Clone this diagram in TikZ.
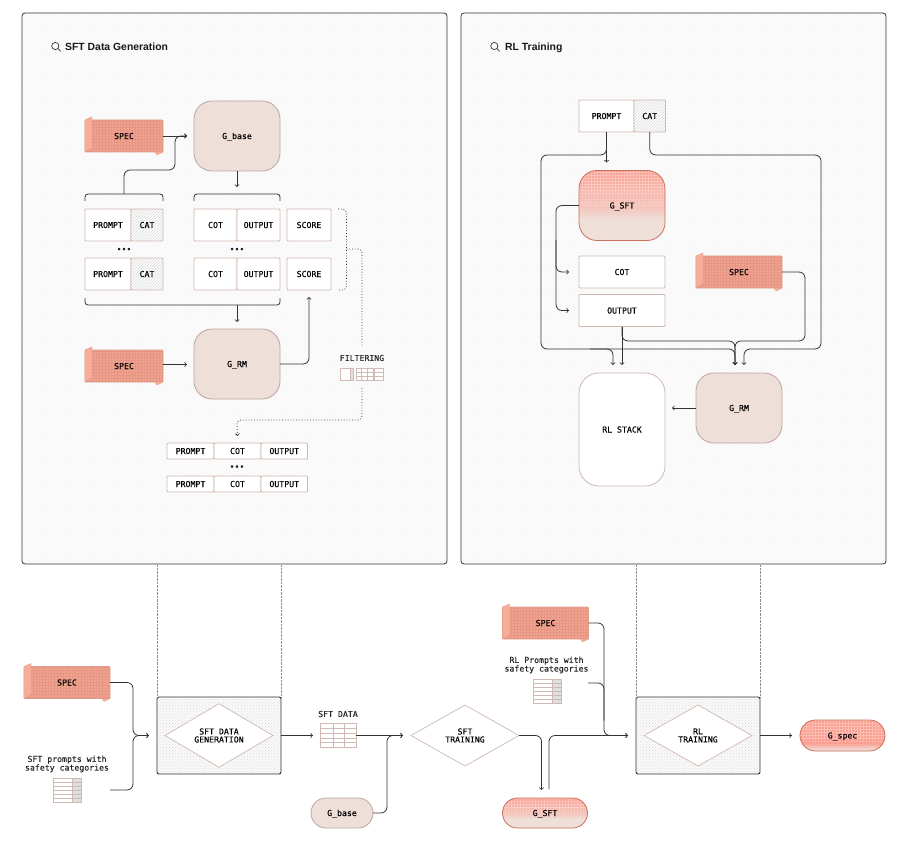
\documentclass[tikz,border=0pt]{standalone}
\usepackage{fontspec}
\setmainfont{Liberation Sans}
\newfontfamily\labelfont[FakeBold=0.15]{DejaVu Sans Mono}
\usepackage{tikz}
\usetikzlibrary{shapes.geometric,positioning,calc,patterns}

\definecolor{linedark}{HTML}{333333}
\definecolor{tanline}{HTML}{CFB9B1}
\definecolor{modelfill}{HTML}{EFDFD9}
\definecolor{specfill}{HTML}{EFA28F}
\definecolor{specgrid}{HTML}{E79684}
\definecolor{specflap}{HTML}{F8AD99}
\definecolor{specline}{HTML}{E09C8A}
\definecolor{fadefill}{HTML}{FB9E90}
\definecolor{fadeline}{HTML}{C8705C}
\pgfdeclareverticalshading{fadeSFT}{100bp}{color(0bp)=(modelfill); color(40bp)=(modelfill); color(49bp)=(fadefill!40!modelfill); color(75bp)=(fadefill); color(100bp)=(fadefill)}
\pgfdeclareverticalshading{fadeSpec}{100bp}{color(0bp)=(modelfill); color(27bp)=(modelfill); color(38bp)=(fadefill); color(100bp)=(fadefill)}

\tikzset{
	cell node/.style={draw=tanline, fill=white, line width=.8pt, rounded corners=1pt, minimum height=32pt, inner sep=0pt, outer sep=0pt, text height=6pt, text depth=0pt, font=\fontsize{8.2}{8}\labelfont},
	hatch node/.style={cell node, preaction={fill=white}, pattern=north east lines, pattern color=gray!30},
	model node/.style={cell node, fill=modelfill, draw=tanline!90!black, minimum width=86pt, minimum height=70pt, rounded corners=18pt},
	fade node/.style={model node, draw=fadeline, shade, shading=#1},
	pill node/.style={model node, minimum height=30pt, rounded corners=15pt},
	spec node/.style={cell node, draw=specline, fill=specfill, minimum width=86pt, path picture={\draw[step=3pt, specgrid, line width=.3pt] (path picture bounding box.south west) grid (path picture bounding box.north east);}},
	fade grid/.style={path picture={
		\draw[step=3pt, white, opacity=.18, line width=.4pt] ($(path picture bounding box.south east)!#1!(path picture bounding box.north east)$) grid (path picture bounding box.north west);
		\draw[step=3pt, white, opacity=.18, line width=.4pt] ($(path picture bounding box.south east)!{#1+.15}!(path picture bounding box.north east)$) grid (path picture bounding box.north west);
	}},
	panel node/.style={draw=linedark, line width=.8pt, rounded corners=3pt, minimum width=425pt, minimum height=551pt, outer sep=0pt, preaction={fill=black!1.5}, pattern=crosshatch dots, pattern color=black!4},
	box node/.style={draw=linedark, line width=.9pt, rounded corners=2pt, minimum width=124pt, minimum height=77pt, outer sep=0pt, preaction={fill=black!2}, pattern=crosshatch dots, pattern color=black!14},
	step node/.style={diamond, draw=tanline, fill=white, line width=.7pt, minimum width=108pt, minimum height=61pt, inner sep=0pt, outer sep=0pt, align=center, font=\fontsize{8.2}{8}\labelfont},
	text node/.style={inner sep=0pt, outer sep=0pt, align=center, text=black!85, font=\fontsize{8.2}{8.6}\labelfont},
	title node/.style={inner sep=0pt, anchor=west, text height=8pt, text depth=2pt, text=black!90, font=\fontsize{10.4}{12}\bfseries},
	table icon/.style n args={3}{draw=tanline, fill=white, line width=.6pt, inner sep=0pt, outer sep=0pt, path picture={
		\fill[black!12] ($(path picture bounding box.north west)!#3!(path picture bounding box.north east)$) rectangle (path picture bounding box.south east);
		\foreach \k in {#1} {\draw[tanline, line width=.6pt] ($(path picture bounding box.north west)!\k!(path picture bounding box.north east)$) -- ($(path picture bounding box.south west)!\k!(path picture bounding box.south east)$);}
		\foreach \k in {1,...,#2} {\draw[tanline, line width=.6pt] ($(path picture bounding box.north west)!\k/#2!(path picture bounding box.south west)$) -- ($(path picture bounding box.north east)!\k/#2!(path picture bounding box.south east)$);}
	}},
	link/.style={->, >=to, draw=linedark, line width=.8pt, rounded corners=6pt, shorten >=7pt},
	plain link/.style={link, -, shorten >=0pt},
	bracket link/.style={plain link, rounded corners=3pt},
	filter link/.style={plain link, dotted, rounded corners=4pt},
	guide link/.style={draw=black!45, line width=.4pt, densely dotted}
}

\begin{document}
\begin{tikzpicture}[x=1pt,y=-1pt,node distance=0pt]
			\useasboundingbox (0,0) rectangle (905,845);
			
			\node[panel node] (panelA) at (234.5,288.5) {};
			\node[panel node] (panelB) at (673.5,288.5) {};
			\node[title node] (titleA) at (65,48) {SFT Data Generation};
			\node[title node] (titleB) at (505,48) {RL Training};
			\draw[linedark, line width=.7pt] (55.3,46) circle (3.6pt) (58,48.7) -- (60.6,51.3);
			\draw[linedark, line width=.7pt] (494.3,46) circle (3.6pt) (497,48.7) -- (499.6,51.3);
			
			\node[spec node, minimum width=78pt] (specA) at (124,136) {SPEC};
			\node[model node] (gbaseA) at (237,136) {G\_base};
			
			\node[cell node, minimum width=46pt] (promptA) at (108,225) {PROMPT};
			\node[hatch node, minimum width=32pt] (catA) [right=of promptA] {CAT};
			\node[cell node, minimum width=43pt] (cotA) at (215.5,225) {COT};
			\node[cell node, minimum width=43pt] (outA) [right=of cotA] {OUTPUT};
			\node[cell node, minimum width=44pt] (scoreA) at (309,225) {SCORE};
			\node[text node] (dotsA) at (124,250) {•••};
			\node[text node] (dotsB) at (237,250) {•••};
			\node[cell node, minimum width=46pt] (promptB) [below=17pt of promptA] {PROMPT};
			\node[hatch node, minimum width=32pt] (catB) [right=of promptB] {CAT};
			\node[cell node, minimum width=43pt] (cotB) [below=17pt of cotA] {COT};
			\node[cell node, minimum width=43pt] (outB) [right=of cotB] {OUTPUT};
			\node[cell node, minimum width=44pt] (scoreB) [below=17pt of scoreA] {SCORE};
			
			\node[spec node, minimum width=78pt] (specB) at (124,366) {SPEC};
			\node[model node] (grmA) at (237,364) {G\_RM};
			
			\node[text node] (filter) at (362,358) {FILTERING};
			\node[table icon={.77}{1}{.77}, minimum width=13pt, minimum height=12pt] (iconA) at (346.5,374.5) {};
			\node[table icon={.33,.66}{3}{1}, minimum width=17pt, minimum height=12pt] (iconB) at (364.5,374.5) {};
			\node[table icon={1}{3}{1}, minimum width=8.5pt, minimum height=12pt] (iconC) at (379,374.5) {};
			
			\node[cell node, minimum width=47pt, minimum height=16pt] (promptC) at (190.5,451) {PROMPT};
			\node[cell node, minimum width=47pt, minimum height=16pt] (cotC) [right=of promptC] {COT};
			\node[cell node, minimum width=46.5pt, minimum height=16pt] (outC) [right=of cotC] {OUTPUT};
			\node[text node] (dotsC) at (237,467.5) {•••};
			\node[cell node, minimum width=47pt, minimum height=16pt] (promptD) [below=17pt of promptC] {PROMPT};
			\node[cell node, minimum width=47pt, minimum height=16pt] (cotD) [right=of promptD] {COT};
			\node[cell node, minimum width=46.5pt, minimum height=16pt] (outD) [right=of cotD] {OUTPUT};
			
			\node[cell node, minimum width=55pt] (promptR) at (606.5,116) {PROMPT};
			\node[hatch node, minimum width=31.5pt] (catR) [right=of promptR] {CAT};
			\node[fade node=fadeSFT, fade grid=.5] (gsftA) at (622,205.5) {G\_SFT};
			\node[cell node, minimum width=86pt] (cotR) at (622,272) {COT};
			\node[cell node, minimum width=86pt] (outR) at (622,310.5) {OUTPUT};
			\node[spec node] (specC) at (739,272) {SPEC};
			\node[cell node, minimum width=86pt, minimum height=113pt, rounded corners=20pt] (stack) at (622,429.5) {RL STACK};
			\node[model node] (grmB) at (739,408) {G\_RM};
			
			\node[spec node, fill=specfill!85!specflap] (specD) at (67,682.5) {SPEC};
			\node[text node] (capA) at (67,764) {SFT prompts with\\safety categories};
			\node[table icon={.68}{6}{.68}, minimum width=28pt, minimum height=24pt] (tabA) at (67,790) {};
			\node[box node] (boxA) at (219,735.5) {};
			\node[step node] (stepA) at (219,735.5) {SFT DATA\\GENERATION};
			\node[text node] (capB) at (338,714) {SFT DATA};
			\node[table icon={.36,.67}{5}{1}, minimum width=36pt, minimum height=24pt] (tabB) at (338,735.5) {};
			\node[pill node, minimum width=62pt] (gbaseB) at (342,813) {G\_base};
			\node[step node] (stepB) at (465,735.5) {SFT\\TRAINING};
			\node[fade node=fadeSFT, fade grid=.5, minimum height=30pt, rounded corners=15pt, minimum width=85pt] (gsftB) at (545,813) {G\_SFT};
			\node[spec node, fill=specfill!85!specflap] (specE) at (545.5,623) {SPEC};
			\node[text node] (capC) at (546.5,665) {RL Prompts with\\safety categories};
			\node[table icon={.68}{6}{.68}, minimum width=28pt, minimum height=24pt] (tabC) at (547,691.5) {};
			\node[box node] (boxB) at (698,735.5) {};
			\node[step node] (stepC) at (698,735.5) {RL\\TRAINING};
			\node[fade node=fadeSpec, fade grid=.25, minimum height=31pt, rounded corners=15.5pt, minimum width=85pt] (gspec) at (842.5,735.5) {G\_spec};
			
			\foreach \s in {specA,specB,specC,specD,specE} {
				\filldraw[fill=specflap, draw=specline, line width=.4pt] (\s.north west) -- ++(7,-3) -- ++(0,31) -- (\s.south west) -- cycle;
				\filldraw[fill=specflap, draw=specline, line width=.4pt] (\s.south east) -- ++(-8,0) -- ++(2,3) -- cycle;
			}
			
			\coordinate (bracketA) at (124,194);
			\coordinate (bracketB) at (237,305);
			\coordinate (dotTop) at (338,209);
			\coordinate (dotMid) at (346.5,249);
			\coordinate (dotBot) at (338,290);
			\coordinate (filterTop) at (362,347);
			\coordinate (filterBot) at (362,388);
			\coordinate (filterTurn) at (237,420);
			\coordinate (leftTop) at (541,155);
			\coordinate (leftBot) at (541,349);
			\coordinate (rightTop) at (821,155);
			\coordinate (rightBot) at (821,349);
			\coordinate (specTurn) at (805,341);
			\coordinate (stackBranch) at (590,349);
			\coordinate (cotTurn) at (556,240);
			\coordinate (joinA) at (133,735.5);
			\coordinate (joinB) at (387,735.5);
			\coordinate (joinC) at (604,735.5);
			\coordinate (tabOutA) at (110,790);
			\coordinate (tabOutC) at (588,683);
			
			\path[every edge/.style={link}]
			(specA.east) edge (gbaseA.west)
			(gbaseA.south) edge [shorten >=0pt] ([yshift=-16pt]gbaseA.south)
			([yshift=1.5pt]specB.east) edge ([yshift=1.5pt]specB.east -| grmA.west)
			(bracketB) edge (grmA.north)
			(promptR.south) edge [shorten >=8pt] (promptR.south |- gsftA.north)
			(outR.south) edge [shorten >=8pt] (stack.north)
			(grmB.west) edge (grmB.west -| stack.east)
			(boxA.east) edge (tabB.west)
			(tabB.east) edge [shorten >=8pt] (stepB.west)
			(boxB.east) edge [shorten >=8pt] (gspec.west);
			
			\draw[bracket link] ([yshift=8pt]promptA.north west) -- ([yshift=15pt]promptA.north west) -- ([yshift=15pt]catA.north east) -- ([yshift=8pt]catA.north east);
			\draw[bracket link] ([yshift=8pt]cotA.north west) -- ([yshift=15pt]cotA.north west) -- ([yshift=15pt]outA.north east) -- ([yshift=8pt]outA.north east);
			\draw[bracket link] ([yshift=-8pt]promptB.south west) -- ([yshift=-15pt]promptB.south west) -- ([yshift=-15pt]outB.south east) -- ([yshift=-8pt]outB.south east);
			\draw[link] (bracketA) -- (124,170) -- (175,170) -- (175,136) -- (gbaseA.west);
			\draw[link] (grmA.east) -| (scoreB.south);
			
			\draw[filter link] (dotTop) -| (dotMid) |- (dotBot);
			\draw[filter link] (dotMid) -| (filterTop);
			\draw[filter link, ->, shorten >=7pt] (filterBot) |- (filterTurn) -- (cotC.north);
			
			\draw[link, shorten >=8pt] (promptR.south) |- (leftTop) -- (leftBot) -| ([xshift=-4pt]grmB.north);
			\draw[link, shorten >=8pt] (stackBranch) -| ([xshift=-9pt]stack.north);
			\draw[link, shorten >=8pt] (catR.south) |- (rightTop) -- (rightBot) -| ([xshift=5pt]grmB.north);
			\draw[link, shorten >=8pt] (specC.east) -| (specTurn) -| ([xshift=-4pt]grmB.north);
			\draw[link, shorten >=8pt] (outR.south) |- ([xshift=-4pt,yshift=32pt]grmB.north) -- ([xshift=-4pt]grmB.north);
			\draw[link, shorten >=10pt] (gsftA.west) -| (cotTurn) |- (cotR.west);
			\draw[link, shorten >=10pt] (cotTurn) |- (outR.west);
			
			\draw[link, shorten >=8pt] (specD.east) -| (joinA) -- (boxA.west);
			\draw[link, shorten >=8pt] (tabOutA) -| (joinA) -- (boxA.west);
			\draw[link, shorten >=8pt] (gbaseB.east) -| (joinB) -- (stepB.west);
			\draw[link, shorten >=8pt] (stepB.east) -| ([xshift=-3.5pt]gsftB.north);
			\draw[link, shorten >=8pt] ([xshift=4pt,yshift=9pt]gsftB.north) |- (boxB.west);
			\draw[link, shorten >=8pt] (specE.east) -| (joinC) -- (boxB.west);
			\draw[plain link] (tabOutC) -| ([yshift=15pt]joinC);
			
			\draw[guide link] (boxA.north west) -- (boxA.north west |- panelA.south);
			\draw[guide link] (boxA.north east) -- (boxA.north east |- panelA.south);
			\draw[guide link] (boxB.north west) -- (boxB.north west |- panelB.south);
			\draw[guide link] (boxB.north east) -- (boxB.north east |- panelB.south);
			
			\end{tikzpicture}
\end{document}
